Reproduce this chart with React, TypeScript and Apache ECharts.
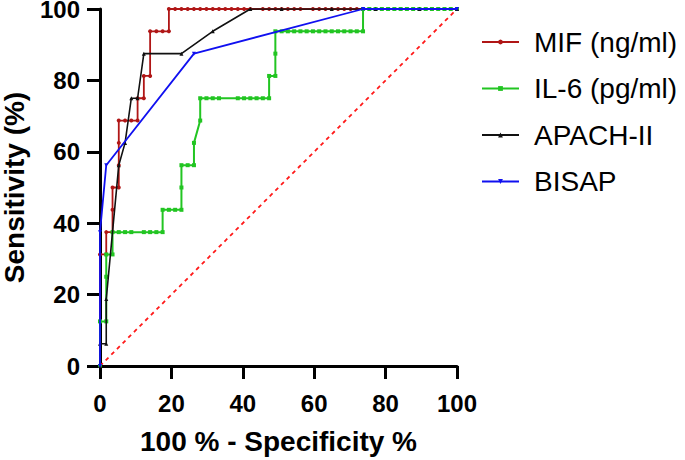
import React, { useEffect, useRef } from "react";
import * as echarts from "echarts";

// 100% - Specificity% (x) and Sensitivity% (y) for each ROC curve
const mifFpr = [0, 0, 1.75, 1.75, 3.51, 3.51, 3.51, 5.26, 5.26, 5.26, 5.26, 7.02, 8.77, 10.53, 10.53, 12.28, 12.28, 14.04, 14.04, 15.79, 17.54, 19.3, 19.3, 21.05, 22.81, 24.56, 26.32, 28.07, 29.82, 31.58, 33.33, 35.09, 36.84, 38.6, 40.35, 42.11, 45.61, 47.37, 49.12, 50.88, 52.63, 54.39, 56.14, 59.65, 61.4, 63.16, 64.91, 66.67, 68.42, 70.18, 71.93, 75.44, 77.19, 80.7, 82.46, 84.21, 85.96, 89.47, 91.23, 92.98, 94.74, 96.49, 100];
const mifSens = [0, 31.25, 31.25, 37.5, 37.5, 43.75, 50, 50, 56.25, 62.5, 68.75, 68.75, 68.75, 68.75, 75, 75, 81.25, 81.25, 93.75, 93.75, 93.75, 93.75, 100, 100, 100, 100, 100, 100, 100, 100, 100, 100, 100, 100, 100, 100, 100, 100, 100, 100, 100, 100, 100, 100, 100, 100, 100, 100, 100, 100, 100, 100, 100, 100, 100, 100, 100, 100, 100, 100, 100, 100, 100];

const il6Fpr = [0, 0, 1.75, 1.75, 1.75, 3.51, 3.51, 5.26, 7.02, 8.77, 12.28, 14.04, 15.79, 17.54, 17.54, 19.3, 21.05, 22.81, 22.81, 22.81, 24.56, 26.32, 26.32, 28.07, 28.07, 29.82, 31.58, 33.33, 38.6, 40.35, 42.11, 43.86, 45.61, 47.37, 47.37, 49.12, 49.12, 49.12, 50.88, 52.63, 54.39, 56.14, 57.89, 59.65, 61.4, 63.16, 64.91, 66.67, 68.42, 70.18, 71.93, 73.68, 73.68, 75.44, 77.19, 78.95, 80.7, 82.46, 84.21, 85.96, 87.72, 89.47, 91.23, 92.98, 94.74, 96.49, 98.25, 100];
const il6Sens = [0, 12.5, 12.5, 25, 31.25, 31.25, 37.5, 37.5, 37.5, 37.5, 37.5, 37.5, 37.5, 37.5, 43.75, 43.75, 43.75, 43.75, 50, 56.25, 56.25, 56.25, 62.5, 68.75, 75, 75, 75, 75, 75, 75, 75, 75, 75, 75, 81.25, 81.25, 87.5, 93.75, 93.75, 93.75, 93.75, 93.75, 93.75, 93.75, 93.75, 93.75, 93.75, 93.75, 93.75, 93.75, 93.75, 93.75, 100, 100, 100, 100, 100, 100, 100, 100, 100, 100, 100, 100, 100, 100, 100, 100];

const apacheFpr = [0, 0, 1.75, 1.75, 5.26, 7.02, 8.77, 10.53, 12.28, 22.81, 31.58, 42.11, 50.88, 64.91, 77.19, 89.47, 100];
const apacheSens = [0, 6.25, 6.25, 18.75, 56.25, 62.5, 75, 75, 87.5, 87.5, 93.75, 100, 100, 100, 100, 100, 100];

const bisapFpr = [0, 0, 1.75, 26.32, 73.68, 100];
const bisapSens = [0, 37.5, 56.25, 87.5, 100, 100];

const refFpr = [0, 100];
const refSens = [0, 100];

const seriesNames = ["MIF (ng/ml)", "IL-6 (pg/ml)", "APACH-II", "BISAP"];
const xTitle = "100 % - Specificity %";
const yTitle = "Sensitivity (%)";

const zip = (xs: number[], ys: number[]) => xs.map((x, i) => [x, ys[i]]);

export default function App() {
  const ref = useRef<HTMLDivElement>(null);
  useEffect(() => {
    if (!ref.current) return;
    const chart = echarts.init(ref.current, null, { renderer: "svg" });
    const font = "Arial, 'Liberation Sans', sans-serif";
    const axisCommon = {
      type: "value" as const,
      min: 0,
      max: 100,
      interval: 20,
      axisLine: { show: true, onZero: false, lineStyle: { color: "#000", width: 3 } },
      axisTick: { show: true, length: 13, lineStyle: { color: "#000", width: 3 } },
      splitLine: { show: false },
      nameLocation: "middle" as const,
      nameTextStyle: { fontSize: 28, fontWeight: "bold" as const, color: "#000", fontFamily: font },
    };
    chart.setOption({
      animation: false,
      backgroundColor: "#fff",
      textStyle: { fontFamily: font },
      grid: { left: 100, right: 228, top: 9, bottom: 94, containLabel: false, outerBoundsMode: "none" },
      xAxis: {
        ...axisCommon,
        name: xTitle,
        nameGap: 61,
        axisLabel: { color: "#000", fontSize: 24, fontWeight: "bold", margin: 25, fontFamily: font },
      },
      yAxis: {
        ...axisCommon,
        name: yTitle,
        nameGap: 72,
        axisLabel: { color: "#000", fontSize: 24, fontWeight: "bold", margin: 20, lineHeight: 18, fontFamily: font },
      },
      legend: {
        orient: "vertical",
        left: 476,
        top: 22,
        itemWidth: 37,
        itemHeight: 6,
        itemGap: 16.5,
        textStyle: { fontSize: 28, color: "#000", lineHeight: 30, padding: [0, 0, 0, 10], fontFamily: font },
        data: seriesNames,
      },
      series: [
        {
          name: "ref",
          type: "line",
          data: zip(refFpr, refSens),
          symbol: "none",
          lineStyle: { color: "#ff1a1a", width: 1.8, type: [4, 4] },
          silent: true,
          z: 1,
        },
        {
          name: seriesNames[0],
          type: "line",
          data: zip(mifFpr, mifSens),
          symbol: "circle",
          symbolSize: 4,
          itemStyle: { color: "#b01616" },
          lineStyle: { color: "#b01616", width: 1.8 },
          z: 2,
        },
        {
          name: seriesNames[1],
          type: "line",
          data: zip(il6Fpr, il6Sens),
          symbol: "rect",
          symbolSize: 4,
          itemStyle: { color: "#22c522" },
          lineStyle: { color: "#22c522", width: 2 },
          z: 3,
        },
        {
          name: seriesNames[2],
          type: "line",
          data: zip(apacheFpr, apacheSens),
          symbol: "triangle",
          symbolSize: 4,
          itemStyle: { color: "#111" },
          lineStyle: { color: "#111", width: 1.6 },
          z: 4,
        },
        {
          name: seriesNames[3],
          type: "line",
          data: zip(bisapFpr, bisapSens),
          symbol: "triangle",
          symbolRotate: 180,
          symbolSize: 4,
          itemStyle: { color: "#1010f0" },
          lineStyle: { color: "#1010f0", width: 1.8 },
          z: 5,
        },
      ],
    });
    return () => chart.dispose();
  }, []);
  return (
    <div
      ref={ref}
      style={{ position: "absolute", left: 0, top: 0, width: 685, height: 460, background: "#fff" }}
    />
  );
}
